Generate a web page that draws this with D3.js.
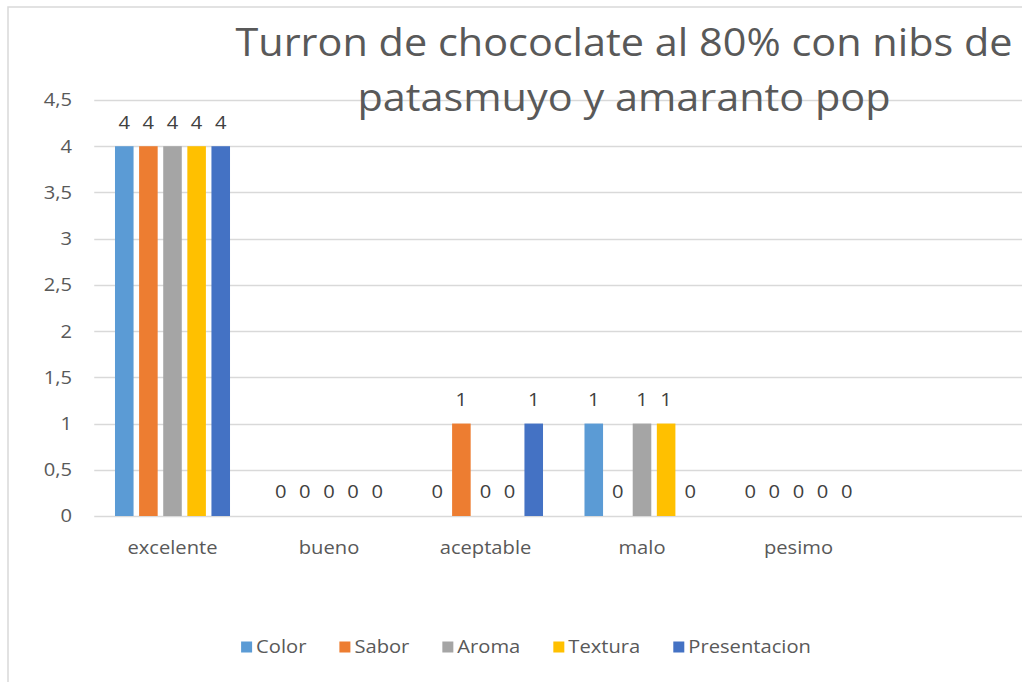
<!DOCTYPE html>
<html>
<head>
<meta charset="utf-8">
<script src="https://cdn.jsdelivr.net/npm/d3@7"></script>
<style>
  html, body { margin: 0; padding: 0; background: #fff; overflow: hidden; }
  svg { display: block; }
  text { font-family: "Open Sans", "Noto Sans", sans-serif; }
</style>
</head>
<body>
<svg id="chart" width="1022" height="682"></svg>
<script>
const title = ["Turron de chococlate al 80% con nibs de", "patasmuyo y amaranto pop"];
const categories = ["excelente", "bueno", "aceptable", "malo", "pesimo"];
const seriesNames = ["Color", "Sabor", "Aroma", "Textura", "Presentacion"];
const colorValues = [4, 0, 0, 1, 0];
const saborValues = [4, 0, 1, 0, 0];
const aromaValues = [4, 0, 0, 1, 0];
const texturaValues = [4, 0, 0, 1, 0];
const presentacionValues = [4, 0, 1, 0, 0];
const seriesColors = ["#5B9BD5", "#ED7D31", "#A5A5A5", "#FFC000", "#4472C4"];
const yTicks = [0, 0.5, 1, 1.5, 2, 2.5, 3, 3.5, 4, 4.5];

const seriesValues = [colorValues, saborValues, aromaValues, texturaValues, presentacionValues];
const series = seriesNames.map((name, i) => ({ name, color: seriesColors[i], values: seriesValues[i] }));

const svg = d3.select("#chart");
const SX = 1.12; // horizontal stretch of text, as in the reference
const place = (x, y, sx = SX) => `translate(${x},${y}) scale(${sx},1)`;

// chart border (cropped on right and bottom)
svg.append("rect").attr("x", 8).attr("y", 7).attr("width", 1100).attr("height", 800)
  .attr("fill", "#fff").attr("stroke", "#d9d9d9").attr("stroke-width", 1.5);

const plotLeft = 94.25, plotRight = 1030;
const y = d3.scaleLinear().domain([0, 4.5]).range([516, 100]);
const x0 = d3.scaleBand().domain(categories).range([94.25, 94.25 + 5 * 156.5])
  .paddingInner(0.265).paddingOuter(0.1325);
const x1 = d3.scaleBand().domain(seriesNames).range([0, x0.bandwidth()]).paddingInner(0.23);

// gridlines
svg.append("g").selectAll("line").data(yTicks).join("line")
  .attr("x1", plotLeft).attr("x2", plotRight)
  .attr("y1", d => Math.round(y(d)) + 0.5).attr("y2", d => Math.round(y(d)) + 0.5)
  .attr("stroke", "#d9d9d9").attr("stroke-width", 1.3);

// y axis labels
const fmt = d => String(d).replace(".", ",");
svg.append("g").selectAll("text").data(yTicks).join("text")
  .attr("transform", d => place(72, y(d))).attr("dy", "0.36em")
  .attr("text-anchor", "end").attr("fill", "#595959").attr("font-size", 18)
  .text(fmt);

// title
svg.append("g").selectAll("text").data(title).join("text")
  .attr("transform", (d, i) => place(624, 56 + i * 55, 1.09))
  .attr("text-anchor", "middle").attr("fill", "#595959").attr("font-size", 38)
  .text(d => d);

// bars
const groups = svg.append("g").selectAll("g").data(series).join("g")
  .attr("fill", d => d.color);
groups.selectAll("rect").data(s => s.values.map((v, i) => ({ s, v, c: categories[i] })))
  .join("rect")
  .attr("x", d => x0(d.c) + x1(d.s.name))
  .attr("width", x1.bandwidth())
  .attr("y", d => y(d.v))
  .attr("height", d => y(0) - y(d.v));

// data labels
groups.selectAll("text").data(s => s.values.map((v, i) => ({ s, v, c: categories[i] })))
  .join("text")
  .attr("transform", d => place(x0(d.c) + x1(d.s.name) + x1.bandwidth() / 2, y(d.v) - 24))
  .attr("dy", "0.36em")
  .attr("text-anchor", "middle").attr("fill", "#404040").attr("font-size", 18)
  .text(d => d.v);

// x labels
svg.append("g").selectAll("text").data(categories).join("text")
  .attr("transform", d => place(x0(d) + x0.bandwidth() / 2, 548)).attr("dy", "0.36em")
  .attr("text-anchor", "middle").attr("fill", "#595959").attr("font-size", 18)
  .text(d => d);

// legend
const legend = svg.append("g");
const items = legend.selectAll("g").data(series).join("g");
items.append("rect").attr("width", 11).attr("height", 11).attr("y", -5.5).attr("fill", d => d.color);
items.append("text").attr("transform", place(15, 0)).attr("dy", "0.36em")
  .attr("fill", "#595959").attr("font-size", 18)
  .text(d => d.name);
const widths = [];
items.each(function () {
  const t = d3.select(this).select("text").node();
  widths.push(15 + t.getComputedTextLength() * SX);
});
const gap = 33;
const total = d3.sum(widths) + gap * (widths.length - 1);
let start = 526 - total / 2;
items.attr("transform", (d, i) => {
  const t = `translate(${start},647)`;
  start += widths[i] + gap;
  return t;
});
</script>
</body>
</html>
